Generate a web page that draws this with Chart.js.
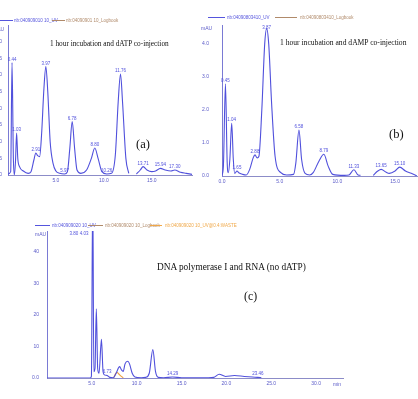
<!DOCTYPE html>
<html>
<head>
<meta charset="utf-8">
<script src="https://cdn.jsdelivr.net/npm/chart.js@4/dist/chart.umd.min.js"></script>
<style>
  body { margin: 0; width: 418px; height: 399px; background: #fff; position: relative; overflow: hidden; }
  canvas { position: absolute; }
  .t { position: absolute; white-space: nowrap; font-family: "Liberation Serif", serif; color: #111; }
  .leg { position: absolute; white-space: nowrap; font-family: "Liberation Sans", sans-serif; font-size: 4.5px; line-height: 5px; }
  .ln { position: absolute; height: 1px; }
  .unit { position: absolute; font-family: "Liberation Sans", sans-serif; font-size: 5px; color: #5a5ac8; }
</style>
</head>
<body>
<canvas id="chart-a" width="209" height="192" style="left:-14px;top:0"></canvas>
<canvas id="chart-b" width="223" height="192" style="left:195px;top:0"></canvas>
<canvas id="chart-c" width="335" height="195" style="left:15px;top:200px"></canvas>

<!-- leyendas y textos -->
<div class="ln" style="left:0;top:20px;width:13px;background:#5555dd"></div>
<div class="leg" style="left:14px;top:18px;color:#5555dd">nb:040909010 10_UV</div>
<div class="ln" style="left:52px;top:20px;width:13px;background:#b08a6a"></div>
<div class="leg" style="left:66px;top:18px;color:#b08a6a">nb:04090901 10_Logbook</div>
<div class="unit" style="left:-7px;top:26px">mAU</div>
<div class="t" style="left:50px;top:39px;font-size:7.3px">1 hour incubation and dATP co-injection</div>
<div class="t" style="left:136px;top:137px;font-size:12.5px">(a)</div>

<div class="ln" style="left:208px;top:17px;width:17px;background:#5555dd"></div>
<div class="leg" style="left:227px;top:15px;color:#5555dd">nb:04090803410_UV</div>
<div class="ln" style="left:275px;top:17px;width:22px;background:#b08a6a"></div>
<div class="leg" style="left:300px;top:15px;color:#b08a6a">nb:04090803410_Logbook</div>
<div class="unit" style="left:201px;top:25px">mAU</div>
<div class="t" style="left:280px;top:38px;font-size:7.6px">1 hour incubation and dAMP co-injection</div>
<div class="t" style="left:389px;top:127px;font-size:12.5px">(b)</div>

<div class="ln" style="left:35px;top:225px;width:15px;background:#5555dd"></div>
<div class="leg" style="left:52px;top:223px;color:#5555dd">nb:040909020 10_UV</div>
<div class="ln" style="left:88px;top:225px;width:15px;background:#b08a6a"></div>
<div class="leg" style="left:105px;top:223px;color:#b08a6a">nb:040909020 10_Logbook</div>
<div class="ln" style="left:150px;top:225px;width:12px;background:#f0a848"></div>
<div class="leg" style="left:165px;top:223px;color:#f0a848">nb:040909020 10_UV@0.4:WASTE</div>
<div class="unit" style="left:35px;top:231px">mAU</div>
<div class="t" style="left:157px;top:262px;font-size:9.3px">DNA polymerase I and RNA (no dATP)</div>
<div class="t" style="left:244px;top:289px;font-size:11.8px">(c)</div>
<div class="unit" style="left:333px;top:381px">min</div>

<script>
// Panel (a): dATP
const tiempoA = [0.0, 0.28, 0.42, 0.56, 0.66, 0.78, 0.9, 1.02, 1.2, 1.6, 2.1, 2.4, 2.7, 2.9, 3.1, 3.3, 3.5, 3.75, 3.95, 4.15, 4.4, 4.7, 5.0, 5.4, 5.9, 6.2, 6.45, 6.7, 6.95, 7.2, 7.6, 8.2, 8.7, 9.06, 9.4, 9.8, 10.3, 10.8, 11.2, 11.5, 11.74, 11.95, 12.3, 12.6, 13.0, 13.4, 13.8, 14.1, 14.5, 15.0, 15.4, 15.9, 16.4, 17.0, 17.4, 18.0, 18.6, 19.2];
const senalA  = [0.03, 0.1, 3.37, 0.5, 0.0, 0.4, 1.26, 0.5, 0.25, 0.12, 0.05, 0.1, 0.45, 0.66, 0.58, 0.55, 1.2, 2.6, 3.25, 2.5, 1.0, 0.35, 0.12, 0.05, 0.03, 0.1, 0.8, 1.6, 0.8, 0.15, 0.05, 0.15, 0.5, 0.81, 0.5, 0.1, 0.03, 0.05, 0.6, 2.2, 3.03, 2.2, 0.5, 0.05, null, 0.03, 0.15, 0.25, 0.15, 0.1, 0.12, 0.2, 0.15, 0.12, 0.15, 0.08, 0.05, 0.02];
const picosA  = [0.42, 0.9, 2.9, 3.95, 5.9, 6.7, 9.06, 10.3, 11.74, 14.1, 15.9, 17.4];
const etiqA   = ['0.44', '1.03', '2.91', '3.97', '5.97', '6.78', '8.80', '10.26', '11.76', '13.71', '15.94', '17.30'];
const ticksXA = [5, 10, 15];
const ticksYA = [0, 0.5, 1.0, 1.5, 2.0, 2.5, 3.0, 3.5, 4.0];

// Panel (b): dAMP
const tiempoB = [0.0, 0.12, 0.3, 0.45, 0.55, 0.68, 0.84, 0.98, 1.1, 1.3, 1.45, 1.8, 2.1, 2.4, 2.7, 2.86, 3.05, 3.2, 3.45, 3.7, 3.87, 4.05, 4.3, 4.6, 5.1, 5.6, 6.2, 6.4, 6.67, 6.9, 7.2, 7.6, 7.9, 8.4, 8.83, 9.2, 9.6, 10.6, 11.0, 11.43, 11.8, 12.0, 12.5, 13.1, 13.5, 13.8, 14.2, 14.5, 15.0, 15.4, 15.9, 16.4, 16.9];
const senalB  = [0.02, 0.3, 2.8, 0.4, 0.1, 0.5, 1.6, 0.5, 0.08, 0.15, 0.1, 0.05, 0.03, 0.2, 0.55, 0.64, 0.55, 0.6, 2.0, 4.0, 4.47, 4.0, 2.2, 0.6, 0.1, 0.03, 0.05, 0.4, 1.39, 0.5, 0.08, 0.03, 0.1, 0.45, 0.66, 0.3, 0.05, 0.02, 0.03, 0.19, 0.03, 0.02, null, 0.02, 0.15, 0.2, 0.12, 0.08, 0.15, 0.27, 0.15, 0.08, 0.0];
const picosB  = [0.3, 0.84, 1.3, 2.86, 3.87, 6.67, 8.83, 11.43, 13.8, 15.4];
const etiqB   = ['0.45', '1.04', '1.65', '2.88', '3.87', '6.58', '8.79', '11.33', '13.65', '15.10'];
const ticksXB = [0, 5, 10, 15];
const ticksYB = [0, 1, 2, 3, 4];

// Panel (c): sin dATP
const tiempoC = [0.0, 4.8, 4.95, 5.1, 5.22, 5.35, 5.5, 5.65, 5.8, 6.07, 6.25, 6.4, 6.7, 7.0, 7.4, 7.7, 8.1, 8.3, 8.5, 8.7, 9.0, 9.2, 9.5, 9.8, 10.5, 11.0, 11.4, 11.8, 12.1, 12.4, 13.0, 14.0, 15.0, 18.0, 18.6, 19.2, 19.9, 20.9, 22.0, 22.9, 23.5, 23.9];
const senalC  = [0.0, 0.0, 0.5, 60, 2.0, 3.0, 22, 3.0, 1.5, 12.3, 2.0, 1.0, 0.8, 0.2, 0.1, 1.5, 3.6, 2.6, 2.1, 4.5, 5.3, 4.5, 1.5, 0.3, 0.1, 0.2, 1.5, 9.0, 2.0, 0.2, 0.1, 0.3, 0.1, 0.05, 0.2, 1.2, 0.5, 0.8, 0.5, 0.3, 0.2, 0.1];
const tiempoC2 = [7.4, 7.8, 8.1, 8.5];
const senalC2  = [0.0, 1.8, 1.0, 0.0];
const picosC  = [3.0, 4.15, 6.7, 14.0, 23.5];
const alturasC = [47, 47, 0.8, 0.3, 0.2];   // la altura del pico grande queda fuera de escala
const etiqC   = ['3.80', '4.03', '6.73', '14.29', '23.46'];
const ticksXC = [5, 10, 15, 20, 25, 30];
const ticksYC = [0, 10, 20, 30, 40];

const AZUL = '#5050dc';
const EJE = '#7a7ad4';
const TXT = '#5a5ac8';

// etiquetas de tiempo de retención sobre cada pico
const etiquetasPicos = {
    id: 'etiquetasPicos',
    afterDatasetsDraw(chart, args, opts) {
        const ctx = chart.ctx;
        const xs = chart.scales.x, ys = chart.scales.y;
        const puntos = chart.data.datasets[0].data;
        ctx.save();
        ctx.font = '4.5px "Liberation Sans"';
        ctx.fillStyle = AZUL;
        ctx.textAlign = 'center';
        ctx.textBaseline = 'bottom';
        opts.tiempos.forEach((t, i) => {
            let v;
            if (opts.alturas) {
                v = opts.alturas[i];
            } else {
                let mejor = puntos[0];
                puntos.forEach(p => { if (p.y !== null && Math.abs(p.x - t) < Math.abs(mejor.x - t)) mejor = p; });
                v = mejor.y;
            }
            const px = xs.getPixelForValue(t);
            let py = ys.getPixelForValue(v) - 1;
            if (py < chart.chartArea.top + 5) py = chart.chartArea.top + 5;
            ctx.fillText(opts.textos[i], px, py);
        });
        ctx.restore();
    }
};

function serie(ts, vs, color) {
    return {
        data: ts.map((t, i) => ({ x: t, y: vs[i] })),
        borderColor: color,
        borderWidth: 1.1,
        pointRadius: 0,
        cubicInterpolationMode: 'monotone',
        spanGaps: false,
        fill: false
    };
}

function crearCromatograma(id, datasets, cfg) {
    return new Chart(document.getElementById(id), {
        type: 'line',
        data: { datasets: datasets },
        options: {
            responsive: false,
            animation: false,
            layout: { padding: cfg.padding },
            scales: {
                x: {
                    type: 'linear',
                    min: cfg.xMin, max: cfg.xMax,
                    afterBuildTicks: s => { s.ticks = cfg.ticksX.map(v => ({ value: v })); },
                    afterFit: s => { s.height = cfg.altoX; },
                    border: { color: '#8c8cc8', width: 1 },
                    grid: { drawOnChartArea: false, drawTicks: false },
                    ticks: { color: TXT, padding: 3, maxRotation: 0, font: { size: 5, family: 'Liberation Sans' },
                             callback: v => v.toFixed(1) }
                },
                y: {
                    min: 0, max: cfg.yMax,
                    afterBuildTicks: s => { s.ticks = cfg.ticksY.map(v => ({ value: v })); },
                    afterFit: s => { s.width = cfg.anchoY; },
                    border: { color: EJE, width: 1 },
                    grid: { drawOnChartArea: false, drawTicks: false },
                    ticks: { color: TXT, padding: cfg.padY, font: { size: 5, family: 'Liberation Sans' },
                             callback: cfg.fmtY }
                }
            },
            plugins: {
                legend: { display: false },
                tooltip: { enabled: false },
                etiquetasPicos: { tiempos: cfg.picos, textos: cfg.etiquetas, alturas: cfg.alturas }
            }
        },
        plugins: [etiquetasPicos]
    });
}

crearCromatograma('chart-a', [serie(tiempoA, senalA, AZUL)], {
    padding: { top: 25, bottom: 2, left: 0, right: 3 },
    xMin: 0, xMax: 19.2, yMax: 4.5, altoX: 15, anchoY: 22, padY: 6,
    ticksX: ticksXA, ticksY: ticksYA, fmtY: v => v.toFixed(1),
    picos: picosA, etiquetas: etiqA
});

crearCromatograma('chart-b', [serie(tiempoB, senalB, AZUL)], {
    padding: { top: 25, bottom: 2, left: 0, right: 1 },
    xMin: 0, xMax: 16.9, yMax: 4.58, altoX: 14, anchoY: 27, padY: 13,
    ticksX: ticksXB, ticksY: ticksYB, fmtY: v => v.toFixed(1),
    picos: picosB, etiquetas: etiqB
});

crearCromatograma('chart-c', [serie(tiempoC, senalC, AZUL), serie(tiempoC2, senalC2, '#f0a040')], {
    padding: { top: 31, bottom: 3, left: 0, right: 7 },
    xMin: 0, xMax: 33, yMax: 46.7, altoX: 14, anchoY: 32, padY: 8,
    ticksX: ticksXC, ticksY: ticksYC, fmtY: v => v === 0 ? '0.0' : String(v),
    picos: picosC, etiquetas: etiqC, alturas: alturasC
});
</script>
</body>
</html>
